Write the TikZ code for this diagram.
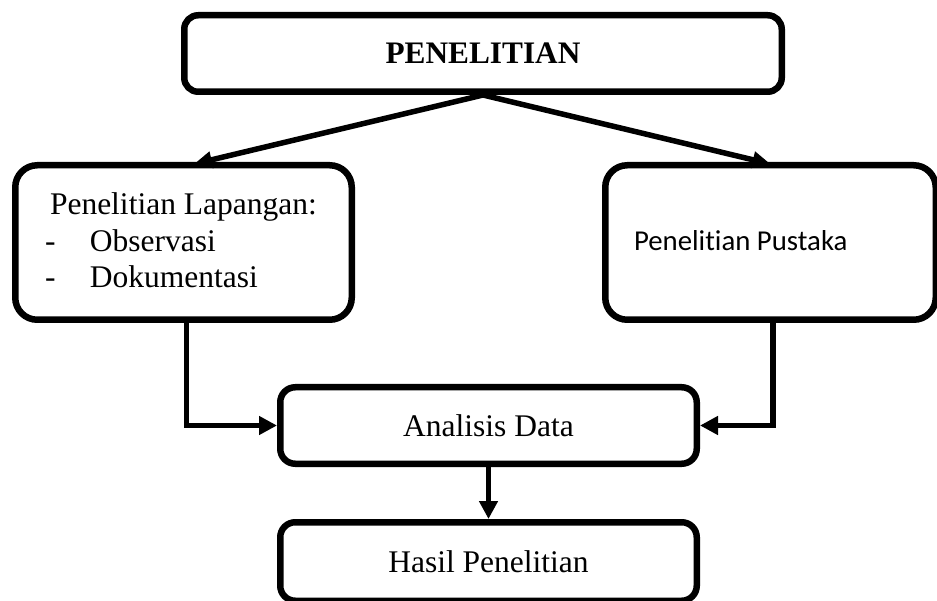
\documentclass[tikz,border=0pt]{standalone}
\usepackage{fontspec}
\setmainfont{Liberation Serif}
\newfontfamily\calibrifont[Ligatures=NoCommon]{Carlito}
\usetikzlibrary{arrows.meta,calc}
\begin{document}
\begin{tikzpicture}[x=1pt,y=-1pt,
  box/.style={draw, line width=6.5pt, rounded corners=#1, inner sep=0pt,
    outer sep=3.25pt, font=\fontsize{31.5}{37}\selectfont},
  box/.default=15pt,
  txt/.style={inner sep=0pt, outer sep=0pt, font=\fontsize{31.5}{37}\selectfont},
  conn/.style={line width=5.5pt, -{Triangle[length=18pt,width=18pt]}},
  topconn/.style={line width=5.5pt, -{Triangle[length=18pt,width=16pt]}}
]
\useasboundingbox (0,0) rectangle (937,601);
\clip (0,0) rectangle (937,601);

\node[box=14pt, minimum width=597.5pt, minimum height=76.5pt,
      font=\fontsize{31.3}{37}\selectfont\bfseries] (pen) at (483,53.5) {PENELITIAN};

\node[box=22pt, minimum width=336.5pt, minimum height=154.5pt] (lap) at (183.5,242.5) {};
\node[txt, anchor=base west] (lapA) at (50,215) {Penelitian Lapangan:};
\node[txt, anchor=base west] (lapB) at (45,252) {\makebox[45pt][l]{-}Observasi};
\node[txt, anchor=base west] (lapC) at (45,288) {\makebox[45pt][l]{-}Dokumentasi};

\node[box=22pt, minimum width=330.5pt, minimum height=154.5pt] (rp) at (770.5,242.5) {};
\node[txt, anchor=base west, font=\calibrifont\fontsize{28.8}{34}\selectfont] (rpA) at (634,251) {Penelitian Pustaka};

\node[box, minimum width=416.5pt, minimum height=76.5pt] (ana) at (488.5,425.5) {Analisis Data};
\node[box, minimum width=416.5pt, minimum height=78.5pt] (has) at (488.5,561.5) {Hasil Penelitian};

\draw[topconn] (pen.south) -- ([xshift=10.5pt,yshift=-2pt]lap.north);
\draw[topconn] (pen.south) -- ([yshift=-2pt]rp.north);

\draw[conn] ([xshift=3pt]lap.south) |- (ana.west);
\draw[conn] ([xshift=2.5pt]rp.south) |- (ana.east);
\draw[conn] (ana.south) -- (has.north);
\end{tikzpicture}
\end{document}
